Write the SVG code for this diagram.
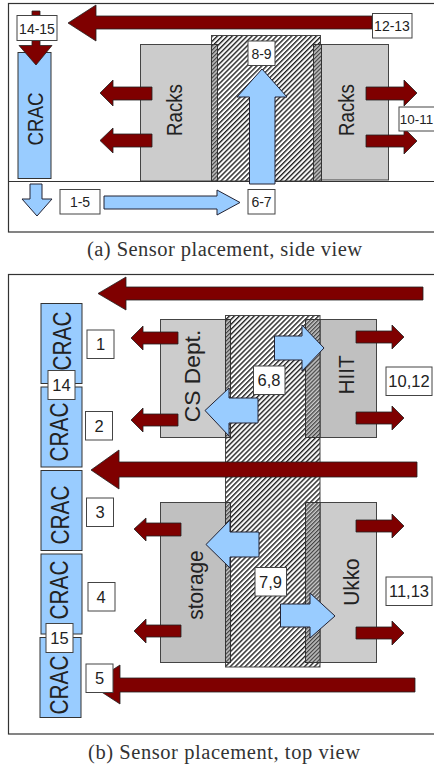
<svg xmlns="http://www.w3.org/2000/svg" width="434" height="766" viewBox="0 0 434 766">
<style>
.panel{fill:#fff;stroke:#333;stroke-width:1.2}
.line{stroke:#333;stroke-width:1;fill:none}
.rack{fill:#ccc;stroke:#444;stroke-width:1}
.rack2{fill:#c0c0c0;stroke:#444;stroke-width:1}
.duct{fill:url(#hatch);stroke:#444;stroke-width:1}
.dense{fill:url(#dense);stroke:#333;stroke-width:1}
.crac{fill:#99ccff;stroke:#333;stroke-width:1}
.hot{fill:#7f0000;stroke:#222;stroke-width:.8}
.cold{fill:#99ccff;stroke:#223;stroke-width:1}
.box{fill:#fff;stroke:#444;stroke-width:1}
text{font-family:"Liberation Sans",Arial,sans-serif;fill:#222;text-anchor:middle}
.cap{font-family:"Liberation Serif","Times New Roman",serif;font-size:20.5px;fill:#333;text-anchor:start}
.l14{font-size:14px}.l16{font-size:16.5px}.r19{font-size:18.7px}.r21{font-size:20.8px}
</style>
<defs>
<pattern id="hatch" width="3.5" height="3.5" patternUnits="userSpaceOnUse" patternTransform="rotate(-45)">
<rect width="3.5" height="3.5" fill="#fff"/><rect width="3.5" height="1.4" fill="#222"/>
</pattern>
<pattern id="dense" width="2.8" height="2.8" patternUnits="userSpaceOnUse" patternTransform="rotate(-45)">
<rect width="2.8" height="2.8" fill="#ccc"/><rect width="2.8" height="1.3" fill="#444"/>
</pattern>
</defs>
<rect class="panel" x="8.5" y="3.5" width="440" height="228.5"/>
<rect class="panel" x="8.5" y="274.5" width="440" height="459.5"/>
<g id="side-view">
<g id="duct-a"><rect class="duct" x="211.5" y="35.5" width="109" height="145.5"/></g>
<g id="racks-a-left"><rect class="rack" x="140.5" y="44.5" width="71" height="136.5"/><rect class="dense" x="211.5" y="44.5" width="6" height="136.5"/><text class="r19" transform="translate(182,110) rotate(-90) scale(1,1.18)">Racks</text></g>
<g id="racks-a-right"><rect class="rack" x="313.5" y="44.5" width="75" height="135.5"/><rect class="dense" x="313.5" y="44.5" width="8" height="136.5"/><text class="r19" transform="translate(354,110) rotate(-90) scale(1,1.18)">Racks</text></g>
<g id="crac-a"><rect class="crac" x="18" y="52.5" width="33" height="126"/><text class="r19" transform="translate(43,119) rotate(-90) scale(1,1.18)">CRAC</text></g>
<line class="line" x1="8" y1="181.5" x2="434" y2="181.5"/>
<g id="connectors-a">
<path class="hot" d="M68,23 L96,5 V16 H372 V29 H96 V41 Z"/>
<path class="hot" d="M32,11 H40 V45.5 H52 L36,65 L19,45.5 H32 Z"/>
<path class="hot" d="M100,93 L113,80 V87 H152 V100 H113 V106 Z"/>
<path class="hot" d="M100,140.500 L113,128 V134 H152 V147 H113 V153 Z"/>
<path class="hot" d="M417,93 L404,80 V87 H366 V100 H404 V106 Z"/>
<path class="hot" d="M417,141 L404,128 V135 H366 V147 H404 V154 Z"/>
<path class="cold" d="M249.500,184 V97 H237 L262,69 L287,97 H275 V184 Z"/>
<path class="cold" d="M30,184 H42 V199 H52 L37,216 L22,199 H30 Z"/>
<path class="cold" d="M104,196 H217 V190 L240,202.500 L217,215 V209 H104 Z"/>
</g>
<g id="label-14-15"><rect class="box" x="17" y="15.500" width="40" height="25"/><text class="l14" x="37" y="33.500">14-15</text></g>
<g id="label-12-13"><rect class="box" x="372.500" y="13.500" width="39.500" height="24.500"/><text class="l14" x="392" y="31">12-13</text></g>
<g id="label-8-9"><rect class="box" x="248" y="41" width="27" height="24.500"/><text class="l14" x="261.500" y="58.500">8-9</text></g>
<g id="label-10-11"><rect class="box" x="399" y="107" width="40" height="24"/><text style="font-size:13.4px" x="416.500" y="124">10-11</text></g>
<g id="label-1-5"><rect class="box" x="60" y="189.500" width="40" height="24.500"/><text class="l14" x="80" y="207">1-5</text></g>
<g id="label-6-7"><rect class="box" x="248" y="189.500" width="27" height="24.500"/><text class="l14" x="261.500" y="207">6-7</text></g>
</g>
<text class="cap" x="87" y="256" textLength="275" lengthAdjust="spacing">(a) Sensor placement, side view</text>
<g id="top-view">
<g id="crac-1"><rect class="crac" x="41" y="303.500" width="41" height="80"/><text class="r21" transform="translate(71,341) rotate(-90) scale(1,1.2)">CRAC</text></g>
<g id="crac-2"><rect class="crac" x="41" y="387" width="41" height="80"/><text class="r21" transform="translate(68,432) rotate(-90) scale(1,1.2)">CRAC</text></g>
<g id="crac-3"><rect class="crac" x="41" y="470.500" width="41" height="80"/><text class="r21" transform="translate(68.500,515) rotate(-90) scale(1,1.2)">CRAC</text></g>
<g id="crac-4"><rect class="crac" x="41" y="554" width="41" height="80"/><text class="r21" transform="translate(68,590) rotate(-90) scale(1,1.2)">CRAC</text></g>
<g id="crac-5"><rect class="crac" x="40" y="637.500" width="41" height="80"/><text class="r21" transform="translate(67.500,685) rotate(-90) scale(1,1.2)">CRAC</text></g>
<g id="cs-dept"><rect class="rack" x="160.500" y="319.500" width="70" height="118"/></g>
<g id="hiit"><rect class="rack2" x="305.500" y="319.500" width="71" height="118"/></g>
<g id="storage"><rect class="rack2" x="160.500" y="502.500" width="70" height="160"/></g>
<g id="ukko"><rect class="rack" x="305.500" y="502.500" width="71" height="160"/></g>
<g id="duct-b"><rect class="duct" x="225.500" y="315.500" width="94.500" height="351.500"/>
<rect class="dense" x="225.500" y="319.500" width="5" height="118"/><rect class="dense" x="305.500" y="319.500" width="14.500" height="118"/><rect class="dense" x="225.500" y="502.500" width="5" height="160"/><rect class="dense" x="305.500" y="502.500" width="14.500" height="160"/></g>
<text style="font-size:22.800px" transform="translate(199.500,376) rotate(-90)">CS Dept.</text>
<text class="r21" transform="translate(353.700,375) rotate(-90) scale(1,1.08)">HIIT</text>
<text class="r21" transform="translate(202.700,585) rotate(-90) scale(1,1.1)">storage</text>
<text class="r21" transform="translate(358.700,582) rotate(-90) scale(1,1.1)">Ukko</text>
<g id="connectors-b">
<path class="hot" d="M98,293.500 L126,277 V287 H423 V300 H126 V310 Z"/>
<path class="hot" d="M91,470 L119,450 V462 H417 V477 H119 V489 Z"/>
<path class="hot" d="M90,684.500 L120,665 V678 H415 V692 H120 V704 Z"/>
<path class="hot" d="M131,338 L143,326 V332 H178 V344 H143 V350 Z"/>
<path class="hot" d="M131,420 L143,408 V414 H178 V426 H143 V432 Z"/>
<path class="hot" d="M134,529 L146,518 V523 H181 V536 H146 V541 Z"/>
<path class="hot" d="M134,631 L146,619 V625 H181 V637 H146 V643 Z"/>
<path class="hot" d="M404,337 L392,325 V331 H356 V343 H392 V349 Z"/>
<path class="hot" d="M404,418 L392,406 V412 H356 V424 H392 V430 Z"/>
<path class="hot" d="M404,526 L392,514 V520 H356 V532 H392 V538 Z"/>
<path class="hot" d="M404,633 L392,621 V627 H356 V639 H392 V645 Z"/>
<path class="cold" d="M274.500,336 H302 V325 L324,348 L302,371 V360 H274.500 Z"/>
<path class="cold" d="M258,398 H229 V388 L205,410.500 L229,436 V423 H258 Z"/>
<path class="cold" d="M259,532 H230 V520 L206,544.500 L230,568 V557 H259 Z"/>
<path class="cold" d="M280.500,604 H310 V593 L335,616 L310,638 V627 H280.500 Z"/>
</g>
<g id="label-1"><rect class="box" x="87" y="330" width="27" height="28.500"/><text class="l16" x="100.500" y="350">1</text></g>
<g id="label-2"><rect class="box" x="85.500" y="411.500" width="27" height="28.500"/><text class="l16" x="99" y="431.500">2</text></g>
<g id="label-3"><rect class="box" x="86.500" y="498" width="27" height="28.500"/><text class="l16" x="100" y="518">3</text></g>
<g id="label-4"><rect class="box" x="88" y="582.500" width="27" height="28.500"/><text class="l16" x="101" y="602.500">4</text></g>
<g id="label-5"><rect class="box" x="86" y="664" width="27" height="28.500"/><text class="l16" x="99.500" y="684">5</text></g>
<g id="label-14"><rect class="box" x="48" y="370.500" width="27" height="29"/><text class="l16" x="61.500" y="391">14</text></g>
<g id="label-15"><rect class="box" x="46" y="623.500" width="27" height="29"/><text class="l16" x="59.500" y="644">15</text></g>
<g id="label-10-12"><rect class="box" x="386" y="367" width="46" height="28.500"/><text class="l16" x="409" y="387">10,12</text></g>
<g id="label-11-13"><rect class="box" x="386" y="577" width="46" height="28.500"/><text class="l16" x="409" y="597">11,13</text></g>
<g id="label-6-8"><rect class="box" x="253.500" y="366" width="31.500" height="28.500"/><text class="l16" x="269" y="386">6,8</text></g>
<g id="label-7-9"><rect class="box" x="255" y="567.500" width="31.500" height="28.500"/><text class="l16" x="270.500" y="587.500">7,9</text></g>
</g>
<text class="cap" x="88" y="759" textLength="272" lengthAdjust="spacing">(b) Sensor placement, top view</text>
</svg>
